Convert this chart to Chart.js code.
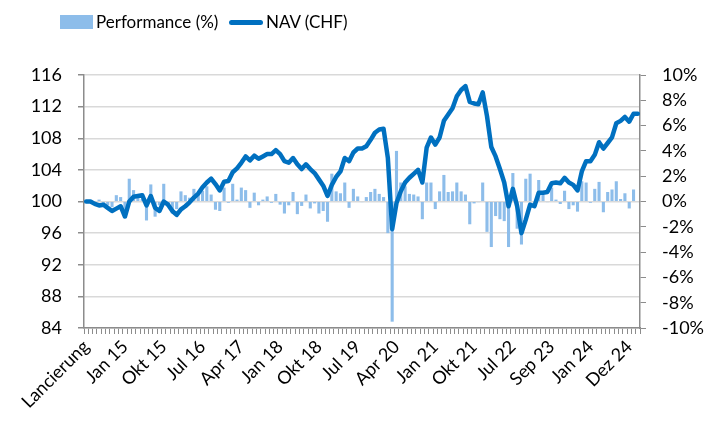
<!DOCTYPE html>
<html>
<head>
<meta charset="utf-8">
<script src="https://cdn.jsdelivr.net/npm/chart.js@4.4.1/dist/chart.umd.min.js"></script>
<style>
  body { margin: 0; background: #fff; }
  #wrap { position: relative; width: 720px; height: 427px; }
  #navChart { position: absolute; left: 0; top: 0; }
  .legend-box { position: absolute; }
  .legend-txt { position: absolute; top: 11px; line-height: 22px; font-family: Lato, sans-serif; font-size: 17px; color: #000; white-space: nowrap; }
</style>
</head>
<body>
<div id="wrap">
  <canvas id="navChart" width="720" height="427"></canvas>
  <div class="legend-box" style="left:60px;top:15px;width:33px;height:14px;background:#8DBDEA"></div>
  <div class="legend-txt" style="left:96px">Performance (%)</div>
  <div class="legend-box" style="left:229px;top:19.5px;width:34px;height:5px;border-radius:3px;background:#0070C0"></div>
  <div class="legend-txt" style="left:266px">NAV (CHF)</div>
</div>
<script>
'use strict';

// beschriftete Monate (jeder 9. Monat)
const tickLabels = ['Lancierung', 'Jan 15', 'Okt 15', 'Jul 16', 'Apr 17', 'Jan 18', 'Okt 18',
  'Jul 19', 'Apr 20', 'Jan 21', 'Okt 21', 'Jul 22', 'Sep 23', 'Jan 24', 'Dez 24'];

// NAV (CHF), ein Wert pro Monat seit Lancierung
const navValues = [
  100.0, 100.0, 99.7, 99.5, 99.6, 99.2, 98.8, 99.1, 99.4, 98.1,
  100.0, 100.6, 100.7, 100.8, 99.5, 100.7, 99.2, 98.8, 100.0, 99.6,
  98.8, 98.3, 99.0, 99.4, 99.9, 100.5, 101.0, 101.8, 102.4, 102.9,
  102.2, 101.4, 102.5, 102.6, 103.7, 104.2, 104.9, 105.7, 105.2, 105.8,
  105.4, 105.7, 106.0, 106.0, 106.5, 106.0, 105.1, 104.9, 105.5, 104.7,
  104.1, 104.7, 104.1, 103.6, 102.8, 102.0, 100.7, 102.1, 103.1, 103.8,
  105.5, 105.1, 106.2, 106.7, 106.7, 107.0, 107.8, 108.7, 109.1, 109.2,
  105.5, 96.5, 99.8, 101.3, 102.4, 103.0, 103.5, 104.0, 102.4, 106.8,
  108.1, 107.2, 108.1, 110.2, 111.0, 111.8, 113.3, 114.1, 114.6, 112.6,
  112.4, 112.3, 113.8, 110.8, 106.9, 105.7, 104.1, 102.4, 99.4, 101.6,
  99.4, 96.0, 97.7, 99.6, 99.4, 101.1, 101.1, 101.2, 102.3, 102.4,
  102.3, 103.0, 102.4, 102.1, 101.4, 103.8, 105.1, 105.1, 105.9, 107.5,
  106.7, 107.4, 108.1, 109.9, 110.2, 110.7, 110.1, 111.1, 111.1
];

// Monatsperformance in %
const perfValues = [
  0, -0.05, -0.2, 0.15, -0.1, -0.3, -0.45, 0.5, 0.35, -1.3,
  1.8, 0.9, 0.5, 0.2, -1.5, 1.35, -1.2, -0.3, 1.4, -0.4,
  -0.95, -0.6, 0.8, 0.5, 0.3, 1.0, 0.7, 0.85, 1.2, 0.55,
  -0.65, -0.75, 1.1, -0.1, 1.4, 0.15, 1.1, 0.9, -0.5, 0.7,
  -0.3, 0.15, 0.4, -0.1, 0.6, -0.25, -0.95, -0.3, 0.75, -1.0,
  -0.35, 0.55, -0.55, -0.15, -0.95, -0.75, -1.6, 2.2, 0.8, 0.65,
  1.5, -0.5, 1.0, 0.4, -0.05, 0.35, 0.75, 1.0, 0.6, 0.35,
  -2.5, -9.5, 4.0, 1.5, 1.2, 0.6, 0.55, 0.4, -1.4, 1.5,
  1.5, -0.6, 0.8, 2.1, 0.75, 0.8, 1.5, 0.8, 0.55, -1.8,
  -0.15, -0.05, 1.5, -2.4, -3.6, -1.15, -1.4, -1.55, -3.6, 2.25,
  -2.15, -3.4, 1.8, 2.2, -0.1, 1.7, 0.55, -0.05, 1.1, 0.15,
  -0.2, 0.85, -0.6, -0.3, -0.8, 1.6, 1.5, -0.1, 1.0, 1.55,
  -0.85, 0.75, 0.95, 1.6, 0.2, 0.65, -0.55, 0.95, 0
];

const months = navValues.map(function(v, i) { return i });

const axisGray = '#8C8C8C';
const tickFont = { family: 'Lato', size: 18 };

let context = document.querySelector('#navChart').getContext('2d');
new Chart(context, {
  data: {
    labels: months,
    datasets: [{
      type: 'bar',
      label: 'Performance (%)',
      data: perfValues,
      yAxisID: 'y2',
      backgroundColor: '#8DBDEA',
      barPercentage: 0.72,
      categoryPercentage: 1,
      order: 1
    }, {
      type: 'line',
      label: 'NAV (CHF)',
      data: navValues,
      yAxisID: 'y',
      borderColor: '#0070C0',
      borderWidth: 4.5,
      borderJoinStyle: 'round',
      borderCapStyle: 'round',
      pointRadius: 0,
      tension: 0,
      order: 0
    }]
  },
  options: {
    responsive: false,
    animation: false,
    devicePixelRatio: 1,
    layout: { padding: { top: 75, left: 0, right: 0, bottom: 0 } },
    plugins: {
      legend: { display: false },
      tooltip: { enabled: false }
    },
    scales: {
      x: {
        offset: true,
        grid: { drawOnChartArea: false, drawTicks: true, tickLength: 6, tickColor: axisGray, offset: true },
        border: { color: axisGray, width: 1.5 },
        ticks: {
          autoSkip: false,
          minRotation: 45,
          maxRotation: 45,
          padding: 2,
          color: '#000',
          font: tickFont,
          callback: function(value, index) {
            return index % 9 === 0 ? tickLabels[index / 9] : '';
          }
        },
        afterFit: function(scale) { scale.height = 99 }
      },
      y: {
        position: 'left',
        min: 84,
        max: 116,
        ticks: { stepSize: 4, padding: 16, color: '#000', font: tickFont },
        grid: { color: '#D9D9D9', lineWidth: 1.5, tickColor: axisGray, tickLength: 6 },
        border: { color: axisGray, width: 1.5 },
        afterFit: function(scale) { scale.width = 84 }
      },
      y2: {
        position: 'right',
        min: -10,
        max: 10,
        ticks: {
          stepSize: 2,
          padding: 16,
          color: '#000',
          font: tickFont,
          callback: function(value) { return value + '%' }
        },
        grid: { drawOnChartArea: false, tickColor: axisGray, tickLength: 6 },
        border: { color: axisGray, width: 1.5 },
        afterFit: function(scale) { scale.width = 80 }
      }
    }
  }
});
</script>
</body>
</html>
